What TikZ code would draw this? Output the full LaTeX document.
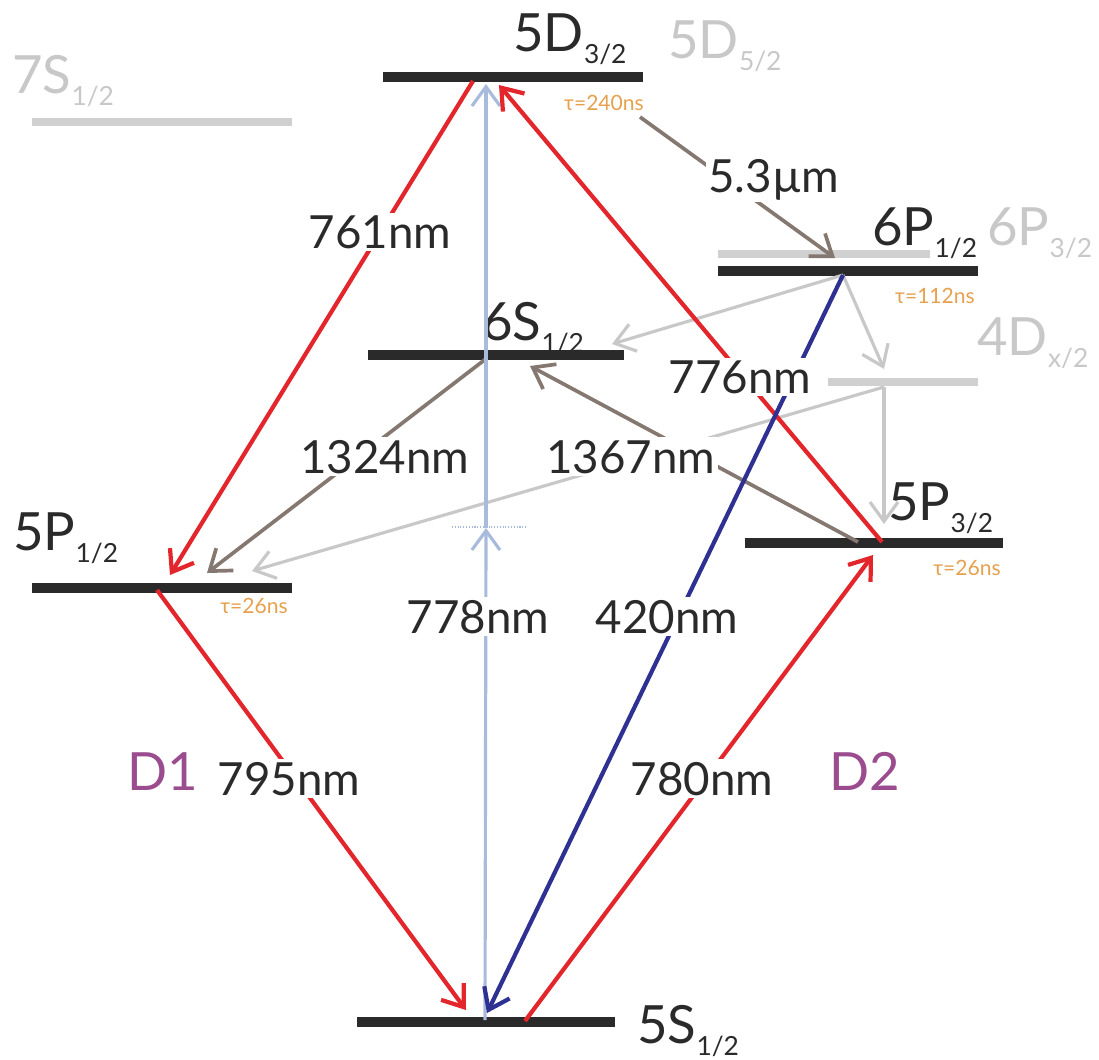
\documentclass[tikz,border=0pt]{standalone}
\usepackage{fontspec}
\setmainfont{Lato}
\usetikzlibrary{arrows.meta}

\definecolor{lvink}{HTML}{2A2A2A}
\definecolor{farink}{HTML}{D0D0D0}
\definecolor{farlabel}{HTML}{C8C8C8}
\definecolor{laserred}{HTML}{E2262C}
\definecolor{paleblue}{HTML}{A8BBDD}
\definecolor{deepblue}{HTML}{2E3192}
\definecolor{decaybrown}{HTML}{857870}
\definecolor{decaygray}{HTML}{C8C8C8}
\definecolor{lifeorange}{HTML}{E6A04E}
\definecolor{lineviolet}{HTML}{9A4C8F}

\newcommand{\lvsub}[1]{\raisebox{-7pt}{\fontsize{15}{15}\selectfont #1}}

\begin{document}
\begin{tikzpicture}[
    x=0.02cm, y=-0.02cm,
    >={Straight Barb[length=11pt, width=16pt]},
    lev/.style={line width=5.5pt, draw=lvink},
    farlev/.style={line width=5pt, draw=farink},
    lvname/.style={anchor=base west, inner sep=0pt, font=\fontsize{30}{32}\selectfont, text=lvink},
    farname/.style={lvname, text=farlabel},
    wl/.style={anchor=base, fill=white, inner sep=1.5pt, font=\fontsize{26}{28}\selectfont, text=lvink},
    life/.style={inner sep=0pt, font=\fontsize{12}{12}\selectfont, text=lifeorange},
    dline/.style={anchor=base, inner sep=0pt, font=\fontsize{30}{32}\selectfont, text=lineviolet},
    pump/.style={->, line width=2.4pt, draw=laserred},
    probe/.style={->, line width=1.8pt, draw=paleblue},
    blue/.style={->, line width=2.4pt, draw=deepblue},
    ir/.style={->, line width=2.1pt, draw=decaybrown},
    cascade/.style={->, line width=1.8pt, draw=decaygray},
]
\useasboundingbox (0,0) rectangle (1099,1059);
% ----- the levels, the far ones in grey
\draw[farlev] (32,122) -- (292,122);
\draw[farlev] (718,254) -- (930,254);
\draw[farlev] (828,382) -- (978,382);
\draw[lev] (383,77) -- (643,77);
\draw[lev] (718,271) -- (978,271);
\draw[lev] (368,355) -- (624,355);
\draw[lev] (745,543) -- (1003,543);
\draw[lev] (32,588) -- (292,588);
\draw[lev] (357,1022) -- (615,1022);
\node[farname] (n7S) at (12,93) {7S\lvsub{1/2}};
\node[lvname] (n5D3) at (513,51) {5D\lvsub{3/2}};
\node[farname] (n5D5) at (668,58) {5D\lvsub{5/2}};
\node[lvname] (n6P1) at (872,245) {6P\lvsub{1/2}};
\node[farname] (n6P3) at (987,245) {6P\lvsub{3/2}};
\node[lvname] (n6S) at (482,340) {6S\lvsub{1/2}};
\node[farname] (n4D) at (977,355) {4D\lvsub{x/2}};
\node[lvname] (n5P3) at (888,520) {5P\lvsub{3/2}};
\node[lvname] (n5P1) at (13,550) {5P\lvsub{1/2}};
\node[lvname] (n5S) at (637,1043) {5S\lvsub{1/2}};
\node[life] (t5D) at (604,103) {τ=240ns};
\node[life] (t6P) at (935,296) {τ=112ns};
\node[life] (t5P3) at (967,568) {τ=26ns};
\node[life] (t5P1) at (254,606) {τ=26ns};
% ----- end points on the levels
\coordinate (s5a) at (466,1010);
\coordinate (s5b) at (485,1020);
\coordinate (s5c) at (487,1013);
\coordinate (s5d) at (525,1021);
\coordinate (p1a) at (170,575);
\coordinate (p1b) at (157,590);
\coordinate (p1c) at (207,573);
\coordinate (p1d) at (252,571);
\coordinate (p3a) at (873,555);
\coordinate (p3b) at (882,542);
\coordinate (p3c) at (858,542);
\coordinate (p3d) at (884,524);
\coordinate (s6a) at (487,358);
\coordinate (s6b) at (530,366);
\coordinate (s6c) at (612,344);
\coordinate (d5a) at (473,81);
\coordinate (d5b) at (486,84);
\coordinate (d5c) at (499,85);
\coordinate (d5d) at (640,117);
\coordinate (p6a) at (843,275);
\coordinate (p6b) at (835,258);
\coordinate (d4a) at (884,369);
\coordinate (d4b) at (884,387);
\coordinate (virt) at (486,528);
\coordinate (virtl) at (452,527);
\coordinate (virtr) at (527,527);
% ----- the cascade through the grey levels
\draw[cascade] (p6a) -- (s6c);
\draw[cascade] (p6a) -- (d4a);
\draw[cascade] (d4b) -- (p3d);
\draw[cascade] (d4b) -- (p1d);
\draw[paleblue, densely dotted, line width=0.6pt] (virtl) -- (virtr);
% ----- infrared decays
\draw[ir] (d5d) -- (p6b);
\draw[ir] (s6a) -- (p1c);
\draw[ir] (p3c) -- (s6b);
% ----- two-photon ladder and the lasers
\draw[probe] (s5b) -- (virt);
\draw[probe] (virt) -- (d5b);
\draw[pump] (d5a) -- (p1a);
\draw[pump] (p1b) -- (s5a);
\draw[pump] (s5d) -- (p3a);
\draw[pump] (p3b) -- (d5c);
\draw[blue] (p6a) -- (s5c);
% ----- wavelengths
\node[wl] (w761) at (380,248) {761nm};
\node[wl] (w53) at (774,192) {5.3µm};
\node[wl] (w1324) at (385,473) {1324nm};
\node[wl] (w1367) at (631,473) {1367nm};
\node[wl] (w776) at (740,393) {776nm};
\node[wl] (w778) at (478,633) {778nm};
\node[wl] (w420) at (667,633) {420nm};
\node[wl] (w795) at (289,795) {795nm};
\node[wl] (w780) at (702,795) {780nm};
\node[dline] (lD1) at (163,790) {D1};
\node[dline] (lD2) at (865,790) {D2};
\end{tikzpicture}
\end{document}
